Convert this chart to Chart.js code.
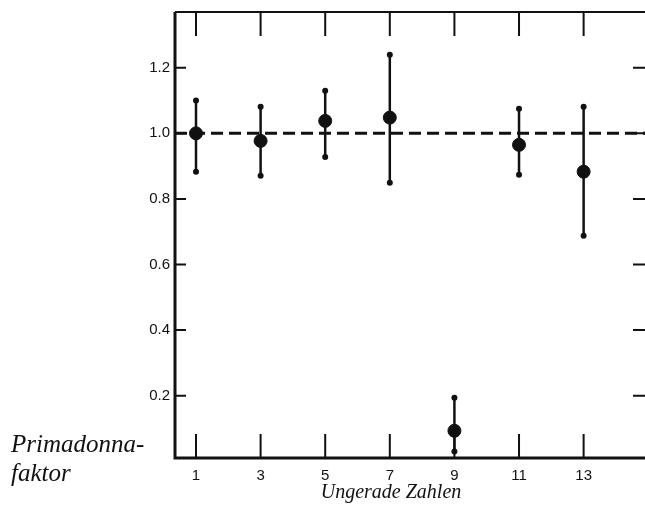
<!DOCTYPE html>
<html>
<head>
<meta charset="utf-8">
<script src="https://cdn.jsdelivr.net/npm/chart.js@4.4.0/dist/chart.umd.min.js"></script>
<style>
  body { margin: 0; background: #fff; }
  #wrap { width: 645px; height: 507px; position: relative; }
</style>
</head>
<body>
<div id="wrap"><canvas id="chart" width="645" height="507"></canvas></div>
<script>
// odd numbers and their primadonna factor with error range
const oddNumbers = [1, 3, 5, 7, 9, 11, 13];
const factorMean = [1.00, 0.977, 1.038, 1.048, 0.093, 0.965, 0.883];
const factorUpper = [1.10, 1.081, 1.13, 1.24, 0.194, 1.075, 1.081];
const factorLower = [0.883, 0.871, 0.928, 0.849, 0.03, 0.874, 0.688];
const yTickValues = [0.2, 0.4, 0.6, 0.8, 1.0, 1.2];
const referenceLevel = 1.0;

const ink = '#111';

const framePlugin = {
  id: 'frame',
  afterDatasetsDraw(chart) {
    const ctx = chart.ctx;
    const xs = chart.scales.x, ys = chart.scales.y;
    const a = chart.chartArea;
    ctx.save();
    ctx.strokeStyle = ink;
    ctx.fillStyle = ink;

    // dashed reference line
    ctx.lineWidth = 3;
    ctx.setLineDash([12, 6]);
    const yr = ys.getPixelForValue(referenceLevel);
    ctx.beginPath();
    ctx.moveTo(a.left, yr);
    ctx.lineTo(a.right, yr);
    ctx.stroke();
    ctx.setLineDash([]);

    // error bars
    oddNumbers.forEach((n, i) => {
      const px = xs.getPixelForValue(n);
      const pu = ys.getPixelForValue(factorUpper[i]);
      const pl = ys.getPixelForValue(factorLower[i]);
      ctx.lineWidth = 2.5;
      ctx.beginPath();
      ctx.moveTo(px, pu);
      ctx.lineTo(px, pl);
      ctx.stroke();
      [pu, pl].forEach(py => {
        ctx.beginPath();
        ctx.arc(px, py, 3, 0, Math.PI * 2);
        ctx.fill();
      });
    });

    // frame: left, bottom, top
    ctx.lineWidth = 3;
    ctx.beginPath();
    ctx.moveTo(a.left, a.top);
    ctx.lineTo(a.left, a.bottom);
    ctx.lineTo(a.right, a.bottom);
    ctx.stroke();
    ctx.lineWidth = 2;
    ctx.beginPath();
    ctx.moveTo(a.left, a.top);
    ctx.lineTo(a.right, a.top);
    ctx.stroke();

    // long ticks top and bottom
    ctx.lineWidth = 2;
    oddNumbers.forEach(n => {
      const px = xs.getPixelForValue(n);
      ctx.beginPath();
      ctx.moveTo(px, a.top);
      ctx.lineTo(px, a.top + 24);
      ctx.moveTo(px, a.bottom);
      ctx.lineTo(px, a.bottom - 24);
      ctx.stroke();
    });

    // short ticks left and right
    yTickValues.forEach(v => {
      const py = ys.getPixelForValue(v);
      ctx.beginPath();
      ctx.moveTo(a.left, py);
      ctx.lineTo(a.left + 11, py);
      ctx.moveTo(a.right - 12, py);
      ctx.lineTo(a.right, py);
      ctx.stroke();
    });

    // titles
    ctx.font = 'italic 20px "Liberation Serif", "DejaVu Serif", serif';
    ctx.textAlign = 'center';
    ctx.textBaseline = 'alphabetic';
    ctx.fillText('Ungerade Zahlen', 391, 498);
    ctx.font = 'italic 25px "Liberation Serif", "DejaVu Serif", serif';
    ctx.textAlign = 'left';
    ctx.fillText('Primadonna-', 11, 452);
    ctx.fillText('faktor', 11, 481);
    ctx.restore();
  }
};

new Chart(document.getElementById('chart').getContext('2d'), {
  type: 'scatter',
  data: {
    datasets: [{
      data: oddNumbers.map((n, i) => ({ x: n, y: factorMean[i] })),
      backgroundColor: ink,
      borderColor: ink,
      pointRadius: 6.5,
      pointHoverRadius: 6.5
    }]
  },
  options: {
    responsive: false,
    animation: false,
    layout: { autoPadding: false, padding: { top: 12, right: 0, left: 0, bottom: 0 } },
    plugins: { legend: { display: false }, tooltip: { enabled: false } },
    scales: {
      x: {
        type: 'linear',
        min: 0.35,
        max: 14.9,
        afterBuildTicks: s => { s.ticks = oddNumbers.map(v => ({ value: v })); },
        afterFit: s => { s.height = 49; s.paddingLeft = 0; s.paddingRight = 0; },
        grid: { display: false, drawTicks: false },
        border: { display: false },
        ticks: {
          color: ink,
          padding: 9,
          maxRotation: 0,
          font: { family: '"Liberation Sans", Arial, sans-serif', size: 15 }
        }
      },
      y: {
        min: 0.01,
        max: 1.37,
        afterBuildTicks: s => { s.ticks = yTickValues.map(v => ({ value: v })); },
        afterFit: s => { s.width = 175; s.paddingTop = 0; s.paddingBottom = 0; },
        grid: { display: false, drawTicks: false },
        border: { display: false },
        ticks: {
          color: ink,
          padding: 5,
          callback: v => v.toFixed(1),
          font: { family: '"Liberation Sans", Arial, sans-serif', size: 15 }
        }
      }
    }
  },
  plugins: [framePlugin]
});
</script>
</body>
</html>
